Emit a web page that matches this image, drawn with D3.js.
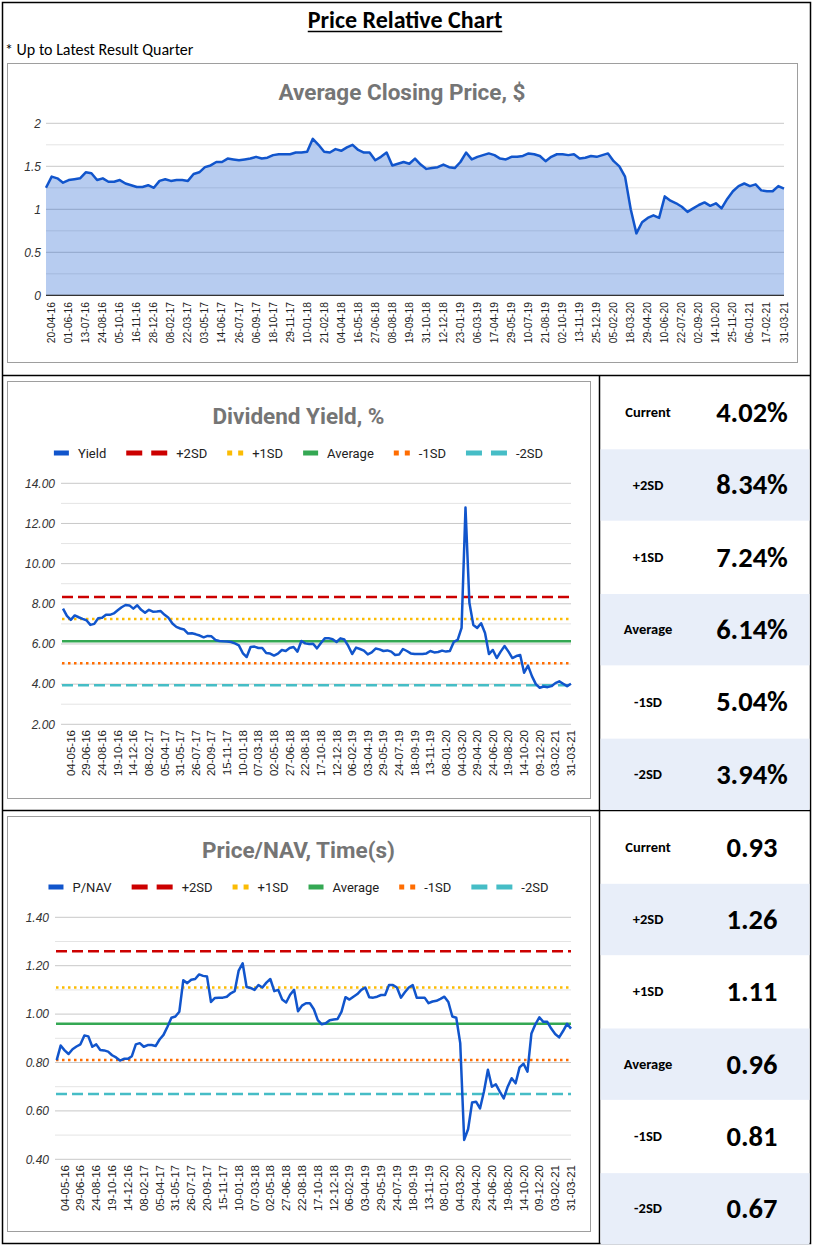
<!DOCTYPE html>
<html><head><meta charset="utf-8">
<script src="https://cdn.jsdelivr.net/npm/d3@7/dist/d3.min.js"></script>
<style>body{margin:0;background:#fff}</style>
</head><body><svg id="c" width="814" height="1248"></svg>
<script>
// ---------- DATA ----------
const priceLabels = ["20-04-16","01-06-16","13-07-16","24-08-16","05-10-16","16-11-16","28-12-16","08-02-17","22-03-17","03-05-17","14-06-17","26-07-17","06-09-17","18-10-17","29-11-17","10-01-18","21-02-18","04-04-18","16-05-18","27-06-18","08-08-18","19-09-18","31-10-18","12-12-18","23-01-19","06-03-19","17-04-19","29-05-19","10-07-19","21-08-19","02-10-19","13-11-19","25-12-19","05-02-20","18-03-20","29-04-20","10-06-20","22-07-20","02-09-20","14-10-20","25-11-20","06-01-21","17-02-21","31-03-21"];
const priceValues = [1.25,1.38,1.36,1.31,1.34,1.35,1.36,1.43,1.42,1.34,1.36,1.32,1.32,1.34,1.30,1.28,1.26,1.26,1.28,1.25,1.33,1.35,1.33,1.34,1.34,1.33,1.41,1.43,1.49,1.51,1.55,1.55,1.59,1.58,1.57,1.58,1.59,1.61,1.59,1.60,1.63,1.64,1.64,1.64,1.66,1.66,1.67,1.82,1.75,1.67,1.66,1.70,1.68,1.72,1.75,1.69,1.66,1.66,1.57,1.61,1.66,1.51,1.53,1.55,1.53,1.59,1.52,1.47,1.48,1.49,1.52,1.49,1.48,1.55,1.66,1.58,1.61,1.63,1.65,1.63,1.59,1.58,1.61,1.61,1.62,1.65,1.64,1.62,1.56,1.61,1.64,1.64,1.63,1.64,1.59,1.60,1.62,1.61,1.63,1.65,1.56,1.50,1.38,1.00,0.72,0.85,0.90,0.93,0.90,1.15,1.10,1.07,1.03,0.97,1.01,1.05,1.08,1.04,1.07,1.01,1.12,1.21,1.27,1.30,1.27,1.29,1.22,1.21,1.21,1.27,1.24];

const dateLabels = ["04-05-16","29-06-16","24-08-16","19-10-16","14-12-16","08-02-17","05-04-17","31-05-17","26-07-17","20-09-17","15-11-17","10-01-18","07-03-18","02-05-18","27-06-18","22-08-18","17-10-18","12-12-18","06-02-19","03-04-19","29-05-19","24-07-19","18-09-19","13-11-19","08-01-20","04-03-20","29-04-20","24-06-20","19-08-20","14-10-20","09-12-20","03-02-21","31-03-21"];

const yieldValues = [7.76,7.40,7.20,7.42,7.33,7.25,7.18,6.95,7.00,7.28,7.30,7.45,7.45,7.52,7.68,7.83,7.94,7.92,7.76,7.93,7.70,7.55,7.70,7.61,7.62,7.64,7.45,7.30,7.02,6.85,6.77,6.72,6.52,6.53,6.48,6.42,6.33,6.40,6.38,6.20,6.15,6.13,6.12,6.10,6.03,5.93,5.55,5.35,5.85,5.87,5.80,5.80,5.55,5.52,5.42,5.52,5.70,5.65,5.80,5.85,5.62,6.15,6.03,6.00,6.01,5.78,6.05,6.28,6.28,6.24,6.10,6.28,6.22,5.90,5.50,5.82,5.75,5.67,5.48,5.58,5.77,5.73,5.65,5.68,5.62,5.45,5.47,5.75,5.65,5.53,5.50,5.50,5.50,5.53,5.65,5.58,5.60,5.67,5.62,5.65,6.10,6.20,6.80,12.79,8.05,6.95,6.80,7.03,6.55,5.50,5.70,5.30,5.62,5.90,5.62,5.30,5.40,5.45,4.57,4.92,4.40,4.00,3.82,3.88,3.85,3.90,4.05,4.14,4.02,3.90,4.02];

const navValues = [0.81,0.87,0.85,0.835,0.855,0.866,0.875,0.912,0.908,0.865,0.875,0.852,0.85,0.845,0.83,0.821,0.808,0.815,0.815,0.826,0.875,0.88,0.865,0.872,0.872,0.868,0.895,0.914,0.948,0.985,0.99,1.01,1.14,1.128,1.142,1.145,1.164,1.158,1.155,1.05,1.067,1.068,1.068,1.072,1.086,1.095,1.18,1.21,1.112,1.108,1.10,1.12,1.11,1.13,1.145,1.095,1.10,1.06,1.048,1.08,1.10,1.012,1.035,1.045,1.045,1.02,0.975,0.958,0.962,0.975,0.978,0.98,1.01,1.07,1.06,1.072,1.083,1.10,1.11,1.07,1.068,1.072,1.079,1.079,1.12,1.12,1.11,1.068,1.09,1.11,1.12,1.068,1.068,1.068,1.045,1.052,1.055,1.063,1.072,1.05,0.99,0.985,0.88,0.48,0.525,0.635,0.638,0.61,0.68,0.77,0.70,0.71,0.68,0.652,0.70,0.735,0.714,0.78,0.795,0.762,0.92,0.958,0.987,0.968,0.968,0.94,0.918,0.904,0.93,0.96,0.94];

const statNames = ["Current","+2SD","+1SD","Average","-1SD","-2SD"];
const yieldStats = [4.02, 8.34, 7.24, 6.14, 5.04, 3.94];
const navStats = [0.93, 1.26, 1.11, 0.96, 0.81, 0.67];

const priceTicks = [0, 0.5, 1, 1.5, 2];
const yieldTicks = [2, 4, 6, 8, 10, 12, 14];
const navTicks = [0.4, 0.6, 0.8, 1.0, 1.2, 1.4];

// ---------- STYLE ----------
const CAL = "Carlito, Calibri, Lato, 'Liberation Sans', sans-serif";
const ROB = "Roboto, 'Liberation Sans', sans-serif";
const ARI = "'Liberation Sans', Arial, sans-serif";
const BLUE = "#1155cc";
const refStyles = [
  null,
  {color:"#cc0000", type:"dash"},
  {color:"#fbbc04", type:"dot"},
  {color:"#34a853", type:"solid"},
  {color:"#ff6d01", type:"dot"},
  {color:"#46bdc6", type:"dash"}
];

const svg = d3.select("#c");

// ---------- FRAME ----------
svg.append("rect").attr("x",2.5).attr("y",2.5).attr("width",808).attr("height",1241)
  .attr("fill","none").attr("stroke","#000").attr("stroke-width",1.5);
svg.append("line").attr("x1",2).attr("x2",811).attr("y1",375.5).attr("y2",375.5).attr("stroke","#000").attr("stroke-width",1.5);
svg.append("line").attr("x1",2).attr("x2",811).attr("y1",810.5).attr("y2",810.5).attr("stroke","#000").attr("stroke-width",1.5);
svg.append("line").attr("x1",599.5).attr("x2",599.5).attr("y1",375).attr("y2",1244).attr("stroke","#000").attr("stroke-width",1.5);

const mainTitle = svg.append("text").attr("x",405).attr("y",28).attr("text-anchor","middle")
  .attr("font-family",CAL).attr("font-weight","bold").attr("font-size",24).attr("fill","#000")
  .text("Price Relative Chart");
const tw = mainTitle.node().getComputedTextLength();
svg.append("line").attr("x1",405-tw/2).attr("x2",405+tw/2).attr("y1",31.5).attr("y2",31.5)
  .attr("stroke","#000").attr("stroke-width",1.5);
svg.append("text").attr("x",5).attr("y",55).attr("font-family",CAL).attr("font-size",16)
  .attr("fill","#000").text("* Up to Latest Result Quarter");

// ---------- TOP: AREA CHART ----------
(function(){
  svg.append("rect").attr("x",7.5).attr("y",63.5).attr("width",790).attr("height",299)
    .attr("fill","#fff").attr("stroke","#9e9e9e");
  svg.append("text").attr("x",402).attr("y",100).attr("text-anchor","middle")
    .attr("font-family",ROB).attr("font-weight","bold").attr("font-size",22.5).attr("fill","#757575")
    .text("Average Closing Price, $");
  const x = d3.scaleLinear().domain([0, priceValues.length-1]).range([46,784]);
  const y = d3.scaleLinear().domain([0,2]).range([295.3,123.3]);
  const g = svg.append("g");
  d3.range(0, 2.001, 0.25).forEach(v=>{
    const major = Math.abs(v*2 - Math.round(v*2))<1e-6;
    g.append("line").attr("x1",46).attr("x2",784).attr("y1",y(v)).attr("y2",y(v))
      .attr("stroke", major?"#c8c8c8":"#e4e4e4").attr("stroke-width",1);
  });
  g.append("path").datum(priceValues)
    .attr("d", d3.area().x((d,i)=>x(i)).y0(y(0)).y1(d=>y(d)))
    .attr("fill", BLUE).attr("fill-opacity",0.3);
  g.append("path").datum(priceValues)
    .attr("d", d3.line().x((d,i)=>x(i)).y(d=>y(d)))
    .attr("fill","none").attr("stroke",BLUE).attr("stroke-width",2.5).attr("stroke-linejoin","round");
  g.append("line").attr("x1",46).attr("x2",784).attr("y1",y(0)).attr("y2",y(0))
    .attr("stroke","#333").attr("stroke-width",1.2);
  priceTicks.forEach(v=>{
    g.append("text").attr("x",41).attr("y",y(v)).attr("dy","0.35em").attr("text-anchor","end")
      .attr("font-family",ARI).attr("font-style","italic").attr("font-size",12).attr("fill","#333")
      .text(String(v));
  });
  priceLabels.forEach((l,i)=>{
    const xx = x(3*i+1);
    g.append("text").attr("transform",`translate(${xx+3.5},302) rotate(-90)`).attr("text-anchor","end")
      .attr("font-family",ARI).attr("font-size",10.3).attr("fill","#222").text(l);
  });
})();

// ---------- LINE CHARTS ----------
function lineChart(o){
  svg.append("rect").attr("x",o.box[0]+0.5).attr("y",o.box[1]+0.5).attr("width",o.box[2]).attr("height",o.box[3])
    .attr("fill","#fff").attr("stroke","#9e9e9e");
  const cx = o.box[0] + o.box[2]/2;
  svg.append("text").attr("x",cx).attr("y",o.titleY).attr("text-anchor","middle")
    .attr("font-family",ROB).attr("font-weight","bold").attr("font-size",22.5).attr("fill","#757575")
    .text(o.title);
  // legend
  const items = [{name:o.seriesName, color:BLUE, type:"solid"}].concat(
    statNames.slice(1).map((n,i)=>({name:n, color:refStyles[i+1].color, type:refStyles[i+1].type})));
  const lg = svg.append("g");
  let cur = 0;
  items.forEach(it=>{
    const sw = it.type==="dash"?41:(it.type==="dot"?16:15);
    const ig = lg.append("g").attr("transform",`translate(${cur},0)`);
    if(it.type==="solid"){
      ig.append("rect").attr("x",0).attr("y",-2.5).attr("width",15).attr("height",5).attr("fill",it.color);
    } else if(it.type==="dash"){
      [0,25].forEach(dx=>ig.append("rect").attr("x",dx).attr("y",-2.5).attr("width",16).attr("height",5).attr("fill",it.color));
    } else {
      [0,11].forEach(dx=>ig.append("rect").attr("x",dx).attr("y",-2.5).attr("width",5).attr("height",5).attr("fill",it.color));
    }
    const t = ig.append("text").attr("x",sw+9).attr("y",0).attr("dy","0.35em")
      .attr("font-family",ROB).attr("font-size",13).attr("fill","#222").text(it.name);
    cur += sw + 9 + t.node().getComputedTextLength() + 20;
  });
  cur -= 20;
  lg.attr("transform",`translate(${cx - cur/2},${o.legendY})`);

  const x = d3.scaleLinear().domain([0,o.values.length-1]).range([o.lineX0,o.gridX1]);
  const y = d3.scaleLinear().domain(o.domain).range([o.yBottom,o.yTop]);
  const g = svg.append("g");
  const nMinor = Math.round((o.domain[1]-o.domain[0])/o.minor);
  for(let i=0;i<=nMinor;i++){
    const v = o.domain[0] + i*o.minor;
    const major = i%2===0;
    g.append("line").attr("x1",o.gridX0).attr("x2",o.gridX1).attr("y1",y(v)).attr("y2",y(v))
      .attr("stroke", major?"#c8c8c8":"#e4e4e4").attr("stroke-width",1);
  }
  o.ticks.forEach(v=>{
    g.append("text").attr("x",o.gridX0-6).attr("y",y(v)).attr("dy","0.35em").attr("text-anchor","end")
      .attr("font-family",ARI).attr("font-style","italic").attr("font-size",12).attr("fill","#333")
      .text(v.toFixed(2));
  });
  // reference lines
  o.stats.forEach((v,i)=>{
    if(i===0) return;
    const s = refStyles[i];
    const ln = g.append("line").attr("x1",o.gridX0+1).attr("x2",o.gridX1).attr("y1",y(v)).attr("y2",y(v))
      .attr("stroke",s.color).attr("stroke-width",2.5);
    if(s.type==="dash") ln.attr("stroke-dasharray","11,5");
    if(s.type==="dot") ln.attr("stroke-dasharray","2.5,3.5");
  });
  g.append("path").datum(o.values)
    .attr("d", d3.line().x((d,i)=>x(i)).y(d=>y(d)))
    .attr("fill","none").attr("stroke",BLUE).attr("stroke-width",2.5).attr("stroke-linejoin","round");
  o.labels.forEach((l,i)=>{
    const xx = x(4*i+2);
    g.append("text").attr("transform",`translate(${xx+4},${o.labelY}) rotate(-90)`).attr("text-anchor","end")
      .attr("font-family",ARI).attr("font-size",11.5).attr("fill","#222").text(l);
  });
}

lineChart({box:[7,381,583,417], title:"Dividend Yield, %", titleY:424, legendY:453, seriesName:"Yield",
  domain:[2,14], minor:1, ticks:yieldTicks, yTop:483.3, yBottom:724.3,
  gridX0:61, gridX1:571, lineX0:63, values:yieldValues, labels:dateLabels, stats:yieldStats, labelY:730});

lineChart({box:[7,816,583,415], title:"Price/NAV, Time(s)", titleY:858, legendY:887, seriesName:"P/NAV",
  domain:[0.4,1.4], minor:0.1, ticks:navTicks, yTop:917.3, yBottom:1159.3,
  gridX0:55, gridX1:571, lineX0:56.7, values:navValues, labels:dateLabels, stats:navStats, labelY:1165});

// ---------- STAT TABLES ----------
function statTable(y0, vals, fmt){
  const rh = 434/6;
  vals.forEach((v,i)=>{
    const yy = y0 + i*rh;
    if(i%2===1) svg.append("rect").attr("x",600.5).attr("y",yy+1).attr("width",209).attr("height",rh-1)
      .attr("fill","#e8eef9");
    svg.append("text").attr("x",648).attr("y",yy+rh/2).attr("dy","0.35em").attr("text-anchor","middle")
      .attr("font-family",CAL).attr("font-weight","bold").attr("font-size",14.5).attr("fill","#000")
      .text(statNames[i]);
    svg.append("text").attr("x",752).attr("y",yy+rh/2).attr("dy","0.35em").attr("text-anchor","middle")
      .attr("font-family",CAL).attr("font-weight","bold").attr("font-size",28.5).attr("fill","#000")
      .text(fmt(v));
  });
}
statTable(376, yieldStats, v=>v.toFixed(2)+"%");
statTable(810.5, navStats, v=>v.toFixed(2));
</script></body></html>
